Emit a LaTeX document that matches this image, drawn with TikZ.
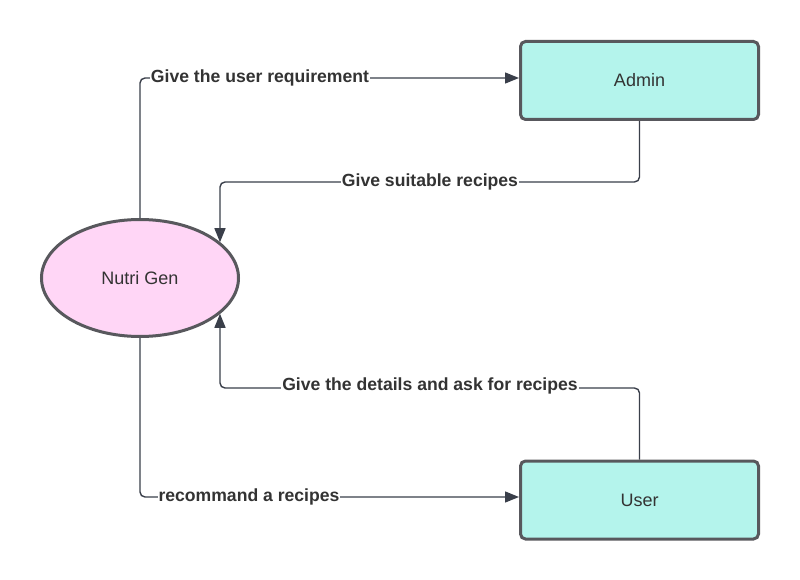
\documentclass[tikz,border=0pt]{standalone}
\usepackage{fontspec}
\setmainfont{Liberation Sans}
\usetikzlibrary{arrows.meta,shapes.geometric}
\definecolor{boxfill}{HTML}{B4F4EC}
\definecolor{ellfill}{HTML}{FFD6F6}
\definecolor{bordercol}{HTML}{58585D}
\definecolor{wire}{HTML}{3A3F4A}
\definecolor{txt}{HTML}{333333}
\begin{document}
\begin{tikzpicture}[x=1pt,y=-1pt,
 entity/.style={draw=bordercol, line width=3pt, fill=boxfill, rounded corners=5pt,
   minimum width=238pt, minimum height=78pt, inner sep=0pt,
   font=\fontsize{18}{21}\selectfont, text=txt},
 proc/.style={ellipse, draw=bordercol, line width=3pt, fill=ellfill,
   minimum width=197pt, minimum height=117pt, inner sep=0pt,
   font=\fontsize{18}{21}\selectfont, text=txt},
 flow/.style={draw=wire, line width=1.4pt, rounded corners=5pt,
   -{Triangle[length=14pt,width=11pt]}},
 lbl/.style={fill=white, inner sep=1pt, font=\bfseries\fontsize{17.6}{20}\selectfont, text=txt}]
\useasboundingbox (0,0) rectangle (800,580);
\fill[white] (0,0) rectangle (800,580);

\node[entity] (admin) at (639.5,80.5) {Admin};
\node[entity] (user) at (639.5,500) {User};
\node[proc] (nutri) at (140,278) {Nutri Gen};

\coordinate (r1) at (0,78);
\coordinate (r2) at (220,182);
\coordinate (r3) at (220,388);
\coordinate (r4) at (0,497);

\draw[flow] (nutri.north) |- (admin.west |- r1);
\draw[flow] (admin.south) |- (r2) -- (r2 |- nutri.24);
\draw[flow] (user.north) |- (r3) -- (r3 |- nutri.-24);
\draw[flow] (nutri.south) |- (user.west |- r4);

\node[lbl] (l1) at (260,78) {Give the user requirement};
\node[lbl] (l2) at (430,182) {Give suitable recipes};
\node[lbl] (l3) at (430,386) {Give the details and ask for recipes};
\node[lbl] (l4) at (249,497) {recommand a recipes};
\end{tikzpicture}
\end{document}
